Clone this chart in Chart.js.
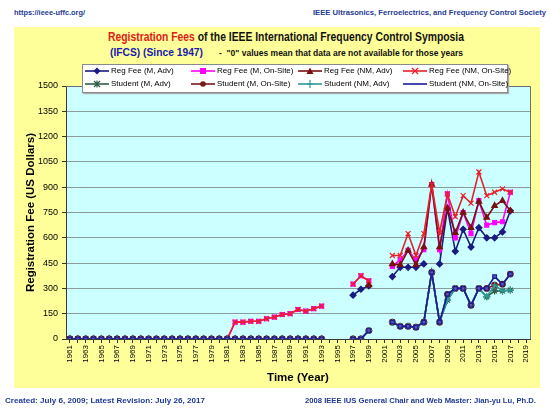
<!DOCTYPE html>
<html><head><meta charset="utf-8">
<script src="https://cdn.jsdelivr.net/npm/chart.js@4.4.1/dist/chart.umd.min.js"></script>
<style>
html,body{margin:0;padding:0;background:#fff;width:550px;height:413px;overflow:hidden;font-family:Arial,"Liberation Sans",sans-serif;}
#frame{position:absolute;left:14px;top:27px;width:526px;height:361px;background:#FFFF99;}
.t{position:absolute;white-space:nowrap;font-weight:bold;transform-origin:0 50%;line-height:1;}
#c{position:absolute;left:0;top:0;}
#legend{position:absolute;left:82px;top:64px;width:424px;height:27px;background:#fff;border:1px solid #8a8a8a;box-shadow:1px 1px 1px #aaa;z-index:5;}
.li{position:absolute;font-size:8px;font-weight:normal;color:#000;white-space:nowrap;line-height:10px;display:flex;align-items:center;}
.li svg{margin-right:2px;}
</style></head>
<body>
<div id="frame"></div>
<div class="t" id="h1" style="left:14px;top:9px;font-size:8px;color:#1F3A93;">https://ieee-uffc.org/</div>
<div class="t" id="h2" style="left:313px;top:9px;font-size:8px;color:#1F3A93;">IEEE Ultrasonics, Ferroelectrics, and Frequency Control Society</div>
<div class="t" id="ti1" style="left:108px;top:31px;font-size:12.5px;color:#111;"><span style="color:#E0201A">Registration Fees</span> of the IEEE International Frequency Control Symposia</div>
<div class="t" id="ti2" style="left:110px;top:47px;font-size:11.5px;color:#1A1AB0;">(IFCS) (Since 1947)</div>
<div class="t" id="ti3" style="left:219px;top:49px;font-size:8.5px;color:#111;">-&nbsp;&nbsp;"0" values mean that data are not available for those years</div>
<canvas id="c" width="550" height="413"></canvas>
<div id="legend"></div>
<div class="t" id="f1" style="left:5px;top:397px;font-size:7.5px;color:#1F3A93;">Created: July 6, 2009; Latest Revision: July 26, 2017</div>
<div class="t" id="f2" style="left:305px;top:397px;font-size:7.5px;color:#1F3A93;">2008 IEEE IUS General Chair and Web Master: Jian-yu Lu, Ph.D.</div>
<script>
const years = [1961,1962,1963,1964,1965,1966,1967,1968,1969,1970,1971,1972,1973,1974,1975,1976,1977,1978,1979,1980,
1981,1982,1983,1984,1985,1986,1987,1988,1989,1990,1991,1992,1993,1994,1995,1996,1997,1998,1999,2000,
2001,2002,2003,2004,2005,2006,2007,2008,2009,2010,2011,2012,2013,2014,2015,2016,2017,2018,2019];

const yTicks = [0,150,300,450,600,750,900,1050,1200,1350,1500];

const regFeeMAdv = [0,0,0,0,0,0,0,0,0,0,0,0,0,0,0,0,0,0,0,0,
0,0,0,0,0,0,0,0,0,0,0,0,0,null,null,null,260,295,315,null,
null,370,425,425,425,445,null,445,775,520,650,545,660,600,600,635,760,null,null];

const regFeeMOnSite = [0,0,0,0,0,0,0,0,0,0,0,0,0,0,0,0,0,0,0,0,
0,100,100,105,105,120,130,145,150,175,165,180,195,null,null,null,325,375,345,null,
null,430,470,525,470,530,915,530,860,600,750,625,820,675,690,695,870,null,null];

const regFeeNMAdv = [0,0,0,0,0,0,0,0,0,0,0,0,0,0,0,0,0,0,0,0,
0,0,0,0,0,0,0,0,0,0,0,0,0,null,null,null,null,null,320,null,
null,445,440,525,440,545,915,545,775,630,750,660,815,720,790,820,760,null,null];

const regFeeNMOnSite = [0,0,0,0,0,0,0,0,0,0,0,0,0,0,0,0,0,0,0,0,
0,100,100,105,105,120,130,145,150,175,165,180,195,null,null,null,325,375,345,null,
null,495,495,625,495,625,915,630,860,725,850,805,990,850,870,890,870,null,null];

const studentMAdv = [0,0,0,0,0,0,0,0,0,0,0,0,0,0,0,0,0,0,0,0,
0,0,0,0,0,0,0,0,0,0,0,0,0,null,null,null,0,0,50,null,
null,100,75,75,70,100,395,100,230,300,300,200,300,250,285,285,290,null,null];

const studentMOnSite = [0,0,0,0,0,0,0,0,0,0,0,0,0,0,0,0,0,0,0,0,
0,0,0,0,0,0,0,0,0,0,0,0,0,null,null,null,0,0,50,null,
null,100,75,75,70,100,395,100,265,300,300,200,300,300,320,325,385,null,null];

const studentNMAdv = [0,0,0,0,0,0,0,0,0,0,0,0,0,0,0,0,0,0,0,0,
0,0,0,0,0,0,0,0,0,0,0,0,0,null,null,null,0,0,50,null,
null,100,75,75,70,100,395,100,230,300,300,200,300,250,320,285,290,null,null];

const studentNMOnSite = [0,0,0,0,0,0,0,0,0,0,0,0,0,0,0,0,0,0,0,0,
0,0,0,0,0,0,0,0,0,0,0,0,0,null,null,null,0,0,50,null,
null,100,75,75,70,100,395,100,265,300,300,200,300,300,370,325,385,null,null];

const seriesNames = ['Reg Fee (M, Adv)','Reg Fee (M, On-Site)','Reg Fee (NM, Adv)','Reg Fee (NM, On-Site)',
  'Student (M, Adv)','Student (M, On-Site)','Student (NM, Adv)','Student (NM, On-Site)'];

const FONT = 'Arial, "Liberation Sans", sans-serif';

const styles = [
  {c:'#1A1A80', p:'rectRot', r:3, m:'diamond', span:2},
  {c:'#FF00FF', p:'rect', r:2.8, m:'square'},
  {c:'#7A1010', p:'triangle', r:3.2, m:'triangle'},
  {c:'#E8202A', p:'crossRot', r:3.5, m:'x'},
  {c:'#2E5E4A', p:'star', r:3.5, m:'star'},
  {c:'#7A1A1A', p:'circle', r:2.8, m:'circle'},
  {c:'#2E9A9A', p:'cross', r:3.5, m:'plus'},
  {c:'#1A1A9A', p:'rect', r:2.6, m:'none', fill:'#5A5AA8'}
];
const allData = [regFeeMAdv, regFeeMOnSite, regFeeNMAdv, regFeeNMOnSite, studentMAdv, studentMOnSite, studentNMAdv, studentNMOnSite];

const datasets = allData.map((d,i)=>({
  label: seriesNames[i], data: d,
  borderColor: styles[i].c, backgroundColor: styles[i].fill || styles[i].c,
  pointStyle: styles[i].p, pointRadius: styles[i].r, pointHoverRadius: styles[i].r,
  pointBorderColor: styles[i].c, pointBackgroundColor: styles[i].fill || styles[i].c,
  borderWidth: 1.6, pointBorderWidth: 1.2, tension: 0,
  spanGaps: styles[i].span || false, order: 7 - i
}));

const bgPlugin = {
  id: 'bg',
  beforeDraw(chart){
    const {ctx, chartArea:a} = chart;
    ctx.save();
    ctx.fillStyle = '#CCFFFF';
    ctx.fillRect(a.left, a.top, a.right-a.left, a.bottom-a.top);
    ctx.restore();
  },
  afterDatasetsDraw(chart){
    const {ctx, chartArea:a} = chart;
    ctx.save();
    ctx.strokeStyle = '#6E6E6E'; ctx.lineWidth = 1;
    ctx.beginPath();
    ctx.moveTo(a.left, a.top+0.5); ctx.lineTo(a.right+0.5, a.top+0.5); ctx.lineTo(a.right+0.5, a.bottom);
    ctx.stroke();
    ctx.restore();
  }
};

new Chart(document.getElementById('c'), {
  type: 'line',
  data: { labels: years, datasets },
  plugins: [bgPlugin],
  options: {
    responsive: false, animation: false, devicePixelRatio: 1,
    layout: { padding: { top: 86, right: 20, bottom: 28, left: 0 } },
    plugins: { legend: { display: false }, tooltip: { enabled: false } },
    scales: {
      x: {
        type: 'category', offset: true,
        grid: { display: true, drawOnChartArea: false, drawTicks: true, tickLength: 4, tickColor: '#333' },
        border: { display: true, color: '#3A3A3A', width: 1 },
        ticks: { autoSkip: false, maxRotation: 90, minRotation: 90, padding: 2, color: '#000',
          font: { family: FONT, size: 8 },
          callback: function(v, i){ return i % 2 === 0 ? String(years[i]) : ''; } },
        title: { display: true, text: 'Time (Year)', color: '#000', font: { family: FONT, size: 11.5, weight: 'bold' }, padding: { top: 0, bottom: 0 } },
        afterFit: s => { s.height = 46; }
      },
      y: {
        min: 0, max: 1500,
        afterBuildTicks: s => { s.ticks = yTicks.map(v => ({ value: v })); },
        ticks: { color: '#000', font: { family: FONT, size: 9 }, padding: 4, callback: v => String(v) },
        grid: { color: '#8A9C9C', tickColor: '#333', tickLength: 4, drawTicks: true },
        border: { color: '#3A3A3A', width: 1 },
        title: { display: true, text: 'Registration Fee (US Dollars)', color: '#000', font: { family: FONT, size: 11.5, weight: 'bold' }, padding: { top: 24, bottom: 0 } },
        afterFit: s => { s.width = 66; }
      }
    }
  }
});

// legend
function swatch(color, m){
  let s = '<svg width="24" height="10" viewBox="0 0 24 10"><line x1="0" y1="5" x2="24" y2="5" stroke="'+color+'" stroke-width="1.6"/>';
  if (m==='diamond') s += '<polygon points="12,1.5 15.5,5 12,8.5 8.5,5" fill="'+color+'"/>';
  if (m==='square') s += '<rect x="9" y="2" width="6" height="6" fill="'+color+'"/>';
  if (m==='triangle') s += '<polygon points="12,1.5 15.5,8 8.5,8" fill="'+color+'"/>';
  if (m==='x') s += '<path d="M9,2 L15,8 M15,2 L9,8" stroke="'+color+'" stroke-width="1.2"/>';
  if (m==='star') s += '<path d="M9,2 L15,8 M15,2 L9,8 M12,1.5 L12,8.5" stroke="'+color+'" stroke-width="1.2"/>';
  if (m==='circle') s += '<circle cx="12" cy="5" r="2.8" fill="'+color+'"/>';
  if (m==='plus') s += '<path d="M12,1 L12,9 M8.5,5 L15.5,5" stroke="'+color+'" stroke-width="1.2"/>';
  return s + '</svg>';
}
const lg = document.getElementById('legend');
const colX = [2, 108, 215, 320];
seriesNames.forEach((n,i)=>{
  const d = document.createElement('div');
  d.className = 'li';
  d.style.left = colX[i%4] + 'px';
  d.style.top = (i<4 ? 1 : 14) + 'px';
  d.innerHTML = swatch(styles[i].c, styles[i].m) + '<span>' + n + '</span>';
  lg.appendChild(d);
});

// fit text widths
function fit(id, w){
  const el = document.getElementById(id);
  const cw = el.getBoundingClientRect().width;
  el.style.transform = 'scaleX(' + (w / cw) + ')';
}
fit('ti1', 356); fit('ti2', 93); fit('ti3', 244);
fit('h1', 71); fit('h2', 233); fit('f1', 200); fit('f2', 231);
</script>
</body></html>
